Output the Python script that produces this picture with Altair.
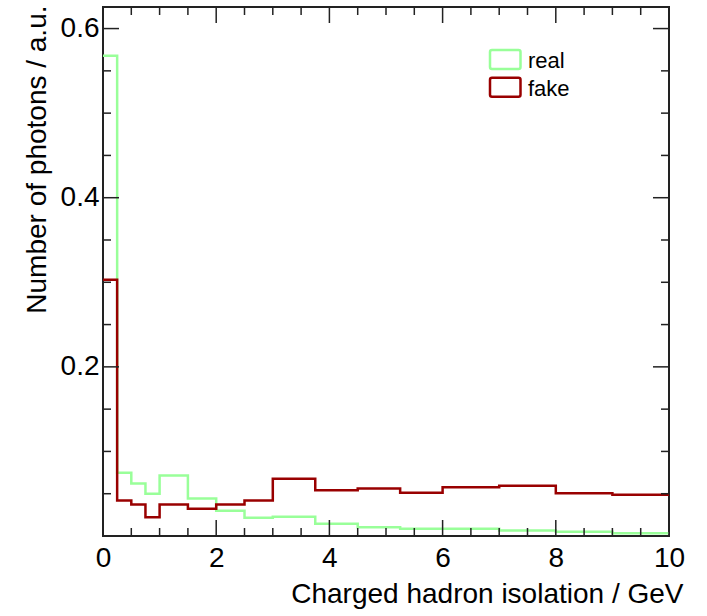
import altair as alt
import pandas as pd

# ---- data ----
edges = [0, 0.25, 0.5, 0.75, 1.0, 1.5, 2.0, 2.5, 3.0, 3.75, 4.5, 5.25, 6.0, 7.0, 8.0, 9.0, 10.0]
real = [0.568, 0.0747, 0.062, 0.050, 0.0715, 0.0443, 0.030, 0.0215, 0.0227, 0.0144,
        0.0104, 0.0085, 0.0085, 0.0065, 0.005, 0.0033]
fake = [0.303, 0.042, 0.0372, 0.0222, 0.0372, 0.0321, 0.0372, 0.042, 0.0676, 0.0541,
        0.0561, 0.051, 0.0576, 0.0593, 0.0506, 0.0487]
series_names = ["real", "fake"]
series_colors = ["#99ff99", "#990000"]

x_major = [0, 2, 4, 6, 8, 10]
x_minor = [0.5, 1, 1.5, 2.5, 3, 3.5, 4.5, 5, 5.5, 6.5, 7, 7.5, 8.5, 9, 9.5]
y_major = [0.2, 0.4, 0.6]
y_minor = [0.05, 0.1, 0.15, 0.25, 0.3, 0.35, 0.45, 0.5, 0.55]

X_DOMAIN = [0, 10]
Y_DOMAIN = [0, 0.6255]
W, H = 566, 529
FONT = "Liberation Sans"

rows = []
for name, vals in zip(series_names, [real, fake]):
    for i, e in enumerate(edges):
        v = vals[i] if i < len(vals) else vals[-1]
        rows.append({"series": name, "x": e, "y": v})
hist = pd.DataFrame(rows)

xs = alt.Scale(domain=X_DOMAIN, nice=False, zero=False)
ys = alt.Scale(domain=Y_DOMAIN, nice=False, zero=False)
cs = alt.Scale(domain=series_names, range=series_colors)

x_axis = alt.Axis(values=x_major, format="d", ticks=False, tickSize=0, domain=False,
                  grid=False, labelFontSize=28, labelPadding=8, labelFont=FONT,
                  labelColor="black", labelFlush=False,
                  title="Charged hadron isolation / GeV", titleFontSize=28,
                  titleFont=FONT, titleFontWeight="normal", titleColor="black",
                  titleAnchor="end", titleAlign="right", titleBaseline="alphabetic",
                  titleX=580, titleY=66)
y_axis = alt.Axis(values=y_major, format=".1f", ticks=False, tickSize=0, domain=False,
                  grid=False, labelFontSize=28, labelPadding=4, labelFont=FONT,
                  labelColor="black", labelFlush=False,
                  title="Number of photons / a.u.", titleFontSize=28,
                  titleFont=FONT, titleFontWeight="normal", titleColor="black",
                  titleAngle=270, titleAlign="right", titleBaseline="alphabetic",
                  titleX=-58, titleY=-2)

lines = alt.Chart(hist).mark_line(interpolate="step-after", strokeWidth=2.5).encode(
    x=alt.X("x:Q", scale=xs, axis=x_axis),
    y=alt.Y("y:Q", scale=ys, axis=y_axis),
    color=alt.Color("series:N", scale=cs, legend=None),
    detail="series:N",
)

def tick_layer(vals, axis_ch, side, length):
    df = pd.DataFrame({"x": vals, "y": vals})
    base = alt.Chart(df).mark_rule(color="#222222", strokeWidth=1.5)
    if axis_ch == "x":
        enc = dict(x=alt.X("x:Q", scale=xs, axis=x_axis))
        if side == "bottom":
            enc.update(y=alt.value(H), y2=alt.value(H - length))
        else:
            enc.update(y=alt.value(0), y2=alt.value(length))
    else:
        enc = dict(y=alt.Y("y:Q", scale=ys, axis=y_axis))
        if side == "left":
            enc.update(x=alt.value(0), x2=alt.value(length))
        else:
            enc.update(x=alt.value(W), x2=alt.value(W - length))
    return base.encode(**enc)

ticks = [
    tick_layer(x_major, "x", "bottom", 16), tick_layer(x_minor, "x", "bottom", 8),
    tick_layer(x_major, "x", "top", 16), tick_layer(x_minor, "x", "top", 8),
    tick_layer(y_major, "y", "left", 16), tick_layer(y_minor, "y", "left", 8),
    tick_layer(y_major, "y", "right", 16), tick_layer(y_minor, "y", "right", 8),
]

# legend (boxes + labels)
leg_df = pd.DataFrame({"series": series_names})
leg_layers = []
for i, (name, col) in enumerate(zip(series_names, series_colors)):
    d = leg_df[leg_df.series == name]
    y0 = 43 + i * 27.7
    box = alt.Chart(d).mark_rect(filled=False, stroke=col, strokeWidth=2.5, cornerRadius=2).encode(
        x=alt.value(387), x2=alt.value(417.5), y=alt.value(y0), y2=alt.value(y0 + 19))
    txt = alt.Chart(d).mark_text(align="left", baseline="alphabetic", fontSize=22,
                                 font=FONT, color="black").encode(
        x=alt.value(425), y=alt.value(y0 + 18.3), text="series:N")
    leg_layers += [box, txt]

chart = alt.layer(lines, *ticks, *leg_layers).properties(
    width=W, height=H,
    autosize=alt.AutoSizeParams(type="none"),
    padding={"left": 103, "top": 7, "right": 38, "bottom": 80},
    background="white",
).configure_view(stroke="#222222", strokeWidth=2)

chart.save("out.html", embed_options={"renderer": "svg", "actions": False})
